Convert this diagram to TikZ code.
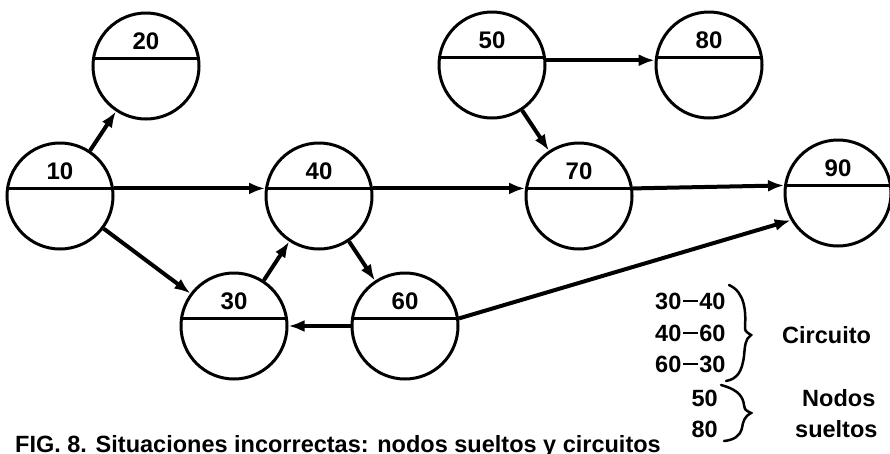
\documentclass[tikz,border=0pt]{standalone}
\usepackage{fontspec}
\setmainfont{Liberation Sans}
\usetikzlibrary{arrows.meta,calc}
\tikzset{
  evt/.style={circle,draw,line width=3pt,minimum size=106pt,inner sep=0pt},
  chord/.style={line width=2.5pt},
  lbl/.style={font=\fontsize{24}{24}\selectfont\bfseries,inner sep=0pt},
  txt/.style={font=\fontsize{23.5}{24}\selectfont\bfseries,inner sep=0pt},
  figcap/.style={font=\fontsize{23.5}{24}\selectfont\bfseries,inner sep=0pt},
  arr/.style={line width=4pt,-{Latex[length=16pt,width=12pt]}},
  brc/.style={line width=2.5pt,line cap=round}
}
\newcommand{\ldash}{\kern1.5pt\rule[0.29em]{15pt}{2.4pt}\kern1.5pt}
\newcommand{\netnode}[4]{%
  \node[evt] (#1) at (#2,#3) {};
  \draw[chord] (#1.172) -- (#1.8);
  \node[lbl] (#1l) at ($(#1.center)+(0,-25)$) {#4};
}
\begin{document}
\begin{tikzpicture}[x=1pt,y=-1pt]
\useasboundingbox (0,0) rectangle (890,453);
\netnode{n20}{146}{66}{20}
\netnode{n10}{60}{196}{10}
\netnode{n40}{319}{196}{40}
\netnode{n50}{492}{65}{50}
\netnode{n80}{709}{65}{80}
\netnode{n70}{579}{196}{70}
\netnode{n90}{838}{193}{90}
\netnode{n30}{234}{326}{30}
\netnode{n60}{405}{326}{60}
\draw[arr] (n10) -- (n20);
\draw[arr] (n10.8) -- (n40.172);
\draw[arr] (n10) -- (n30);
\draw[arr] (n30) -- (n40);
\draw[arr] (n40) -- (n60);
\draw[arr] (n60.west) -- (n30.east);
\draw[arr] (n40.8) -- (n70.172);
\draw[arr] (n70.8) -- (n90.172);
\draw[arr] (n50.5) -- (n80.175);
\draw[arr] (n50) -- (n70);
\draw[arr] (n60.8) -- (n90.210);
% legend
\node[txt,anchor=base west] (c1) at (655,309) {30\ldash40};
\node[txt,anchor=base west] (c2) at (655,341) {40\ldash60};
\node[txt,anchor=base west] (c3) at (655,372) {60\ldash30};
\node[txt,anchor=base west] (ci) at (782,343) {Circuito};
\draw[brc] (729,285) .. controls (745,292) and (746,312) .. (745,326) .. controls (745,331) .. (751,335) .. controls (745,339) and (745,346) .. (744,356) .. controls (742,372) and (737,379) .. (726,381);
\node[txt,anchor=base east] (s50) at (718,406) {50};
\node[txt,anchor=base east] (s80) at (718,437) {80};
\node[txt,anchor=base west] (nd) at (802,406) {Nodos};
\node[txt,anchor=base west] (su) at (795,437) {sueltos};
\draw[brc] (721,385) .. controls (740,390) and (743,398) .. (744,405) .. controls (745,410) .. (751,413) .. controls (745,416) and (743,421) .. (742,428) .. controls (740,436) and (734,440) .. (724,441);
\node[figcap,anchor=base west] (fig) at (15,452) {FIG. 8. Situaciones incorrectas: nodos sueltos y circuitos};
\end{tikzpicture}
\end{document}
